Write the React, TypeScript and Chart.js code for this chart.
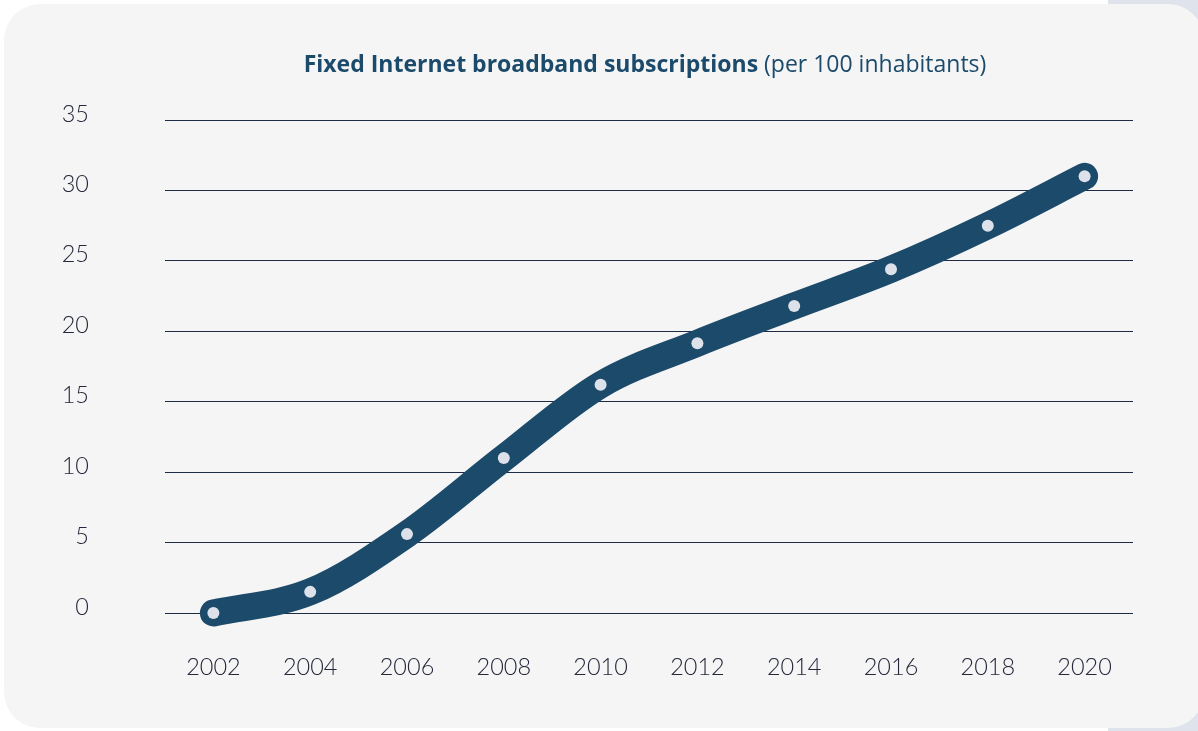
import React, { useEffect, useRef } from "react";
import { Chart, registerables } from "chart.js";

Chart.register(...registerables);

const years = ["2002", "2004", "2006", "2008", "2010", "2012", "2014", "2016", "2018", "2020"];
const subscriptions = [0, 1.5, 5.6, 11.0, 16.2, 19.15, 21.8, 24.4, 27.5, 31.0];
const yTicks = [0, 5, 10, 15, 20, 25, 30, 35];
const titleBold = "Fixed Internet broadband subscriptions";
const titleRest = " (per 100 inhabitants)";

const NAVY = "#1b4a6b";

export default function App() {
  const ref = useRef<HTMLCanvasElement | null>(null);

  useEffect(() => {
    if (!ref.current) return;
    const chart = new Chart(ref.current, {
      type: "line",
      data: {
        labels: years,
        datasets: [
          {
            data: subscriptions,
            borderColor: NAVY,
            borderWidth: 27,
            borderCapStyle: "round",
            borderJoinStyle: "round",
            cubicInterpolationMode: "monotone",
            clip: false,
            pointRadius: 6,
            pointBackgroundColor: "#dde2ea",
            pointBorderWidth: 0,
            pointBorderColor: "#dde2ea",
            fill: false,
          },
        ],
      },
      options: {
        animation: false,
        responsive: false,
        events: [],
        layout: { padding: { top: 120, right: 65, left: 0, bottom: 0 } },
        plugins: {
          legend: { display: false },
          tooltip: { enabled: false },
          title: { display: false },
        },
        scales: {
          x: {
            type: "category",
            offset: true,
            grid: { display: false, drawTicks: false },
            border: { display: false },
            ticks: {
              color: "#25283a",
              font: { family: "Lato", size: 23.5, weight: "300" },
              padding: 40,
              maxRotation: 0,
            },
            afterFit: (scale: any) => {
              scale.height = 731 - 613;
            },
          },
          y: {
            min: 0,
            max: 35,
            afterBuildTicks: (scale: any) => {
              scale.ticks = yTicks.map((v) => ({ value: v }));
            },
            grid: { color: "#1d2b45", lineWidth: 1, drawTicks: false },
            border: { display: false },
            ticks: {
              color: "#25283a",
              font: { family: "Lato", size: 23.5, weight: "300" },
              padding: 76,
              labelOffset: -6,
            },
            afterFit: (scale: any) => {
              scale.width = 165;
            },
          },
        },
      },
    });
    return () => chart.destroy();
  }, []);

  return (
    <div
      style={{
        position: "fixed",
        left: 0,
        top: 0,
        width: 1198,
        height: 731,
        background: "#ffffff",
        overflow: "hidden",
      }}
    >
      <div
        style={{
          position: "absolute",
          left: 1108,
          top: 0,
          width: 90,
          height: 731,
          background: "#dfe4ec",
        }}
      />
      <div
        style={{
          position: "absolute",
          left: 4,
          top: 4,
          width: 1200,
          height: 724,
          borderRadius: 36,
          background: "#f5f5f5",
        }}
      />
      <canvas
        ref={ref}
        width={1198}
        height={731}
        style={{ position: "absolute", left: 0, top: 0, width: 1198, height: 731 }}
      />
      <div
        style={{
          position: "absolute",
          left: 0,
          top: 47,
          width: 1290,
          textAlign: "center",
          fontFamily: "'Open Sans'",
          fontSize: 23,
          lineHeight: "32px",
          color: NAVY,
          whiteSpace: "nowrap",
        }}
      >
        <span style={{ fontWeight: 700 }}>{titleBold}</span>
        <span style={{ fontWeight: 400 }}>{titleRest}</span>
      </div>
    </div>
  );
}
